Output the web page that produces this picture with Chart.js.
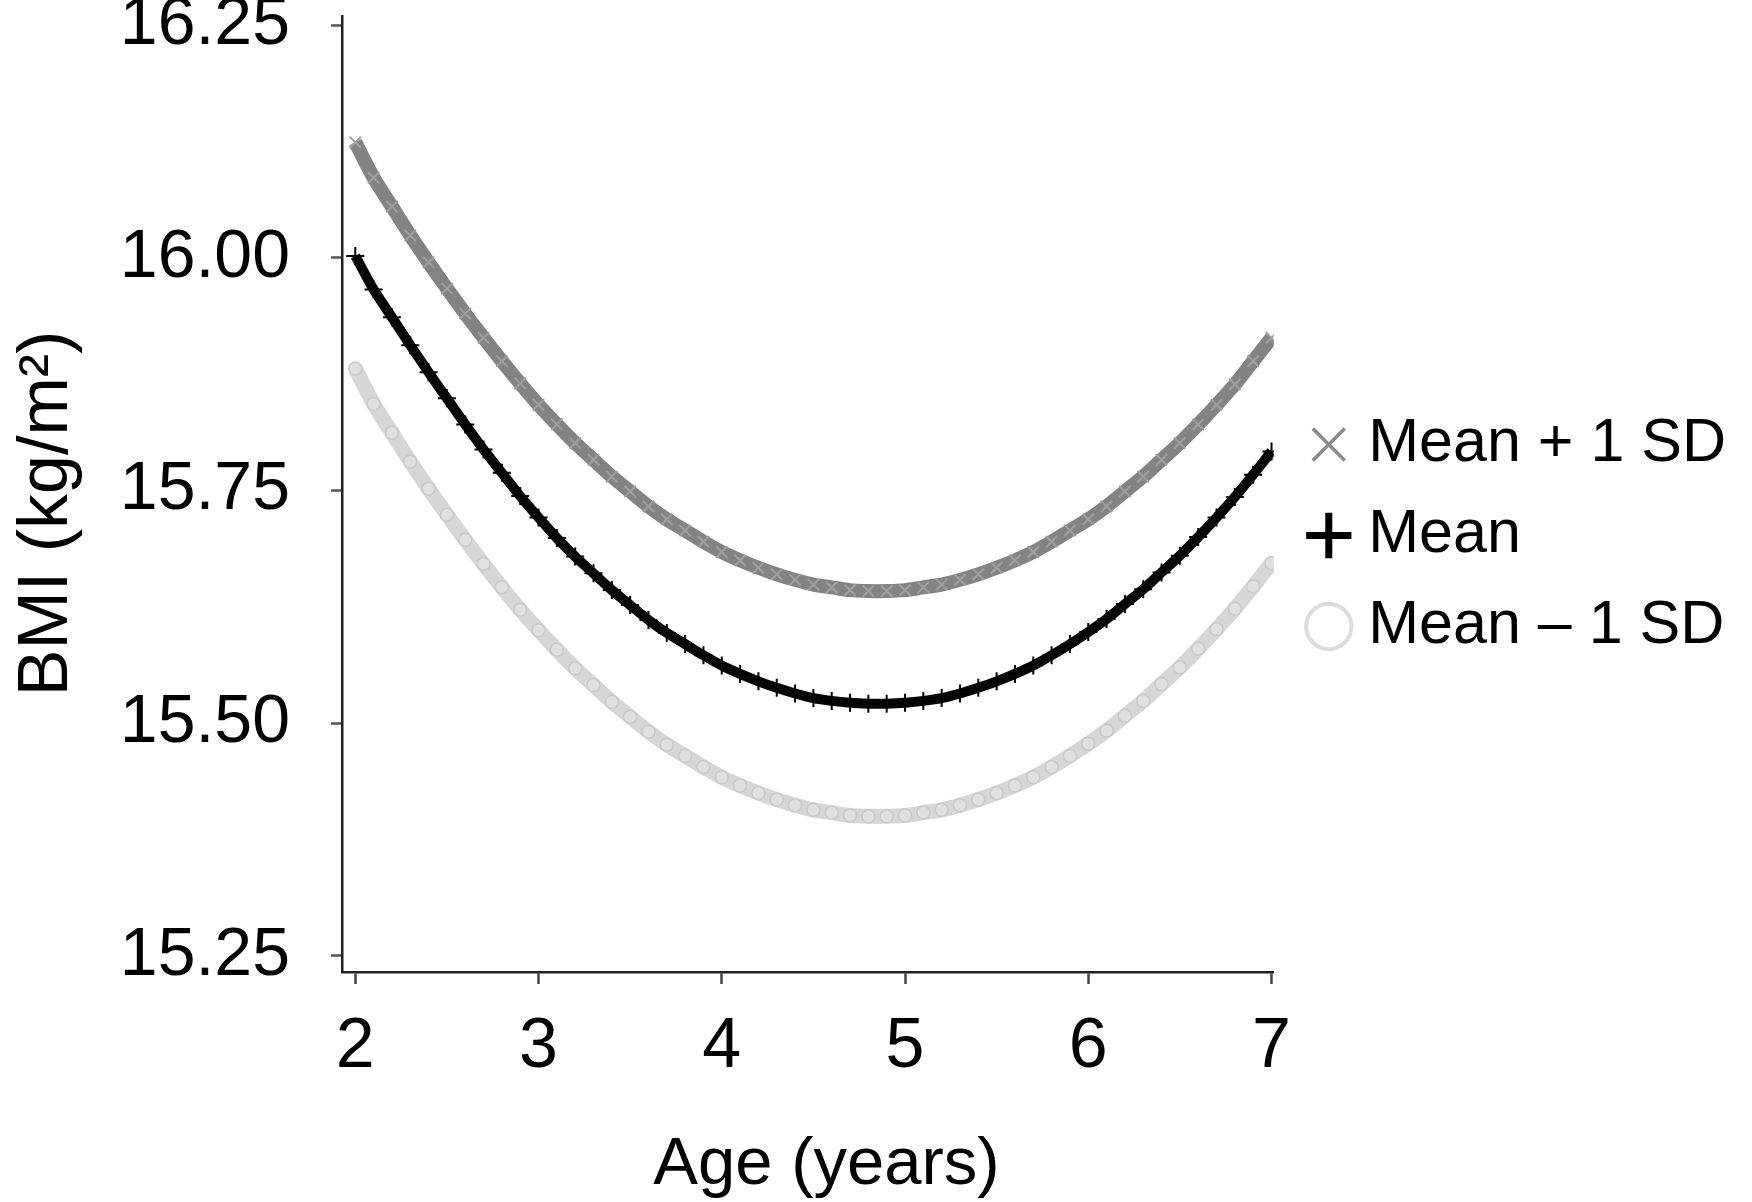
<!DOCTYPE html>
<html>
<head>
<meta charset="utf-8">
<script src="https://cdn.jsdelivr.net/npm/chart.js@4.4.1/dist/chart.umd.min.js"></script>
<style>
  html, body { margin: 0; padding: 0; background: #ffffff; }
  #wrap { width: 1752px; height: 1202px; }
</style>
</head>
<body>
<div id="wrap"><canvas id="c" width="1752" height="1202"></canvas></div>
<script>
// ---- Data ----
const ages = [2.0, 2.1, 2.2, 2.3, 2.4, 2.5, 2.6, 2.7, 2.8, 2.9,
              3.0, 3.1, 3.2, 3.3, 3.4, 3.5, 3.6, 3.7, 3.8, 3.9,
              4.0, 4.1, 4.2, 4.3, 4.4, 4.5, 4.6, 4.7, 4.8, 4.9,
              5.0, 5.1, 5.2, 5.3, 5.4, 5.5, 5.6, 5.7, 5.8, 5.9,
              6.0, 6.1, 6.2, 6.3, 6.4, 6.5, 6.6, 6.7, 6.8, 6.9, 7.0];

const meanPlus1SD = [16.124, 16.086, 16.055, 16.024, 15.995, 15.967, 15.940, 15.914, 15.889, 15.865,
                     15.842, 15.821, 15.801, 15.783, 15.765, 15.749, 15.733, 15.719, 15.707, 15.695,
                     15.684, 15.675, 15.667, 15.660, 15.654, 15.649, 15.646, 15.643, 15.642, 15.642,
                     15.643, 15.646, 15.649, 15.654, 15.660, 15.667, 15.675, 15.684, 15.695, 15.707,
                     15.719, 15.733, 15.749, 15.765, 15.783, 15.801, 15.821, 15.842, 15.864, 15.889, 15.914];

const meanBMI = [16.002, 15.966, 15.936, 15.906, 15.877, 15.849, 15.821, 15.794, 15.769, 15.744,
                 15.721, 15.699, 15.679, 15.661, 15.643, 15.627, 15.611, 15.597, 15.585, 15.573,
                 15.562, 15.553, 15.545, 15.538, 15.532, 15.527, 15.524, 15.522, 15.521, 15.521,
                 15.522, 15.524, 15.527, 15.532, 15.538, 15.545, 15.553, 15.562, 15.573, 15.585,
                 15.598, 15.612, 15.628, 15.644, 15.662, 15.680, 15.700, 15.721, 15.743, 15.767, 15.792];

const meanMinus1SD = [15.881, 15.843, 15.812, 15.781, 15.752, 15.724, 15.697, 15.671, 15.646, 15.622,
                      15.600, 15.579, 15.559, 15.541, 15.523, 15.507, 15.491, 15.477, 15.465, 15.453,
                      15.442, 15.433, 15.425, 15.418, 15.412, 15.407, 15.404, 15.401, 15.400, 15.400,
                      15.401, 15.404, 15.407, 15.412, 15.418, 15.425, 15.433, 15.442, 15.453, 15.465,
                      15.478, 15.492, 15.508, 15.524, 15.542, 15.560, 15.580, 15.601, 15.623, 15.647, 15.672];

const seriesLabels = ['Mean + 1 SD', 'Mean', 'Mean \u2013 1 SD'];
const xTickValues = [2, 3, 4, 5, 6, 7];
const yTickValues = [15.25, 15.50, 15.75, 16.00, 16.25];
const xAxisTitle = '\u00A0\u00A0Age (years)';
const yAxisTitle = 'BMI (kg/m\u00B2)\u00A0\u00A0';

// ---- Styling ----
const FONT = '"Liberation Sans", Arial, Helvetica, sans-serif';
const toPoints = (ys) => ages.map((a, i) => ({ x: a, y: ys[i] }));

const legendShift = {
  id: 'legendShift',
  afterLayout(chart) {
    const l = chart.legend;
    if (!l) return;
    const dx = 16, dy = 368;
    l.left += dx; l.right += dx;
    l.top += dy; l.bottom += dy;
  }
};

new Chart(document.getElementById('c'), {
  type: 'scatter',
  data: {
    datasets: [
      {
        label: seriesLabels[0],
        data: toPoints(meanPlus1SD),
        showLine: true,
        tension: 0.3,
        borderColor: '#838383',
        borderWidth: 14,
        pointStyle: 'crossRot',
        pointRadius: 8,
        pointBorderWidth: 2,
        pointBorderColor: '#a0a0a0',
        pointBackgroundColor: 'transparent'
      },
      {
        label: seriesLabels[1],
        data: toPoints(meanBMI),
        showLine: true,
        tension: 0.3,
        borderColor: '#050505',
        borderWidth: 10,
        pointStyle: 'cross',
        pointRadius: 9,
        pointBorderWidth: 2,
        pointBorderColor: '#000000',
        pointBackgroundColor: 'transparent'
      },
      {
        label: seriesLabels[2],
        data: toPoints(meanMinus1SD),
        showLine: true,
        tension: 0.3,
        borderColor: '#d6d6d6',
        borderWidth: 15,
        pointStyle: 'circle',
        pointRadius: 6.5,
        pointBorderWidth: 1.5,
        pointBorderColor: '#c8c8c8',
        pointBackgroundColor: '#e0e0e0'
      }
    ]
  },
  options: {
    responsive: false,
    devicePixelRatio: 1,
    animation: false,
    events: [],
    layout: { padding: { left: 6, top: 16, right: 32, bottom: 0 } },
    plugins: {
      tooltip: { enabled: false },
      legend: {
        display: true,
        position: 'right',
        align: 'start',
        maxWidth: 600,
        labels: {
          usePointStyle: true,
          boxWidth: 18,
          boxHeight: 32,
          padding: 30,
          color: '#000000',
          font: { family: FONT, size: 61, weight: 'normal' },
          generateLabels: () => [
            { text: seriesLabels[0], pointStyle: 'crossRot', strokeStyle: '#8a8a8a', fillStyle: 'transparent', lineWidth: 3.5, datasetIndex: 0, hidden: false },
            { text: seriesLabels[1], pointStyle: 'cross', strokeStyle: '#000000', fillStyle: 'transparent', lineWidth: 7, datasetIndex: 1, hidden: false },
            { text: seriesLabels[2], pointStyle: 'circle', strokeStyle: '#dcdcdc', fillStyle: '#ffffff', lineWidth: 4, datasetIndex: 2, hidden: false }
          ]
        }
      }
    },
    scales: {
      x: {
        type: 'linear',
        min: 1.9275,
        max: 7.0125,
        afterBuildTicks: (s) => { s.ticks = xTickValues.map(v => ({ value: v })); },
        afterFit: (s) => { s.height = 230; },
        ticks: {
          autoSkip: false,
          maxRotation: 0,
          padding: 22,
          color: '#000000',
          font: { family: FONT, size: 70, weight: 'normal' },
          callback: (v) => String(v)
        },
        grid: {
          display: true,
          drawOnChartArea: false,
          drawTicks: true,
          tickLength: 12,
          tickWidth: 2.5,
          tickColor: '#444444'
        },
        border: { display: true, color: '#222222', width: 2.5 },
        title: {
          display: true,
          text: xAxisTitle,
          color: '#000000',
          font: { family: FONT, size: 67, weight: 'normal', lineHeight: 1.1 },
          padding: { top: 10, bottom: 0 }
        }
      },
      y: {
        type: 'linear',
        min: 15.2328,
        max: 16.2597,
        afterBuildTicks: (s) => { s.ticks = yTickValues.map(v => ({ value: v })); },
        afterFit: (s) => { s.width = 336; s.paddingTop = 0; s.paddingBottom = 0; },
        ticks: {
          autoSkip: false,
          padding: 41,
          color: '#000000',
          font: { family: FONT, size: 68, weight: 'normal' },
          callback: (v) => Number(v).toFixed(2)
        },
        grid: {
          display: true,
          drawOnChartArea: false,
          drawTicks: true,
          tickLength: 11,
          tickWidth: 2.5,
          tickColor: '#555555'
        },
        border: { display: true, color: '#222222', width: 2.5 },
        title: {
          display: true,
          text: yAxisTitle,
          color: '#000000',
          font: { family: FONT, size: 70, weight: 'normal' },
          padding: { top: 0, bottom: 0 }
        }
      }
    }
  },
  plugins: [legendShift]
});
</script>
</body>
</html>
